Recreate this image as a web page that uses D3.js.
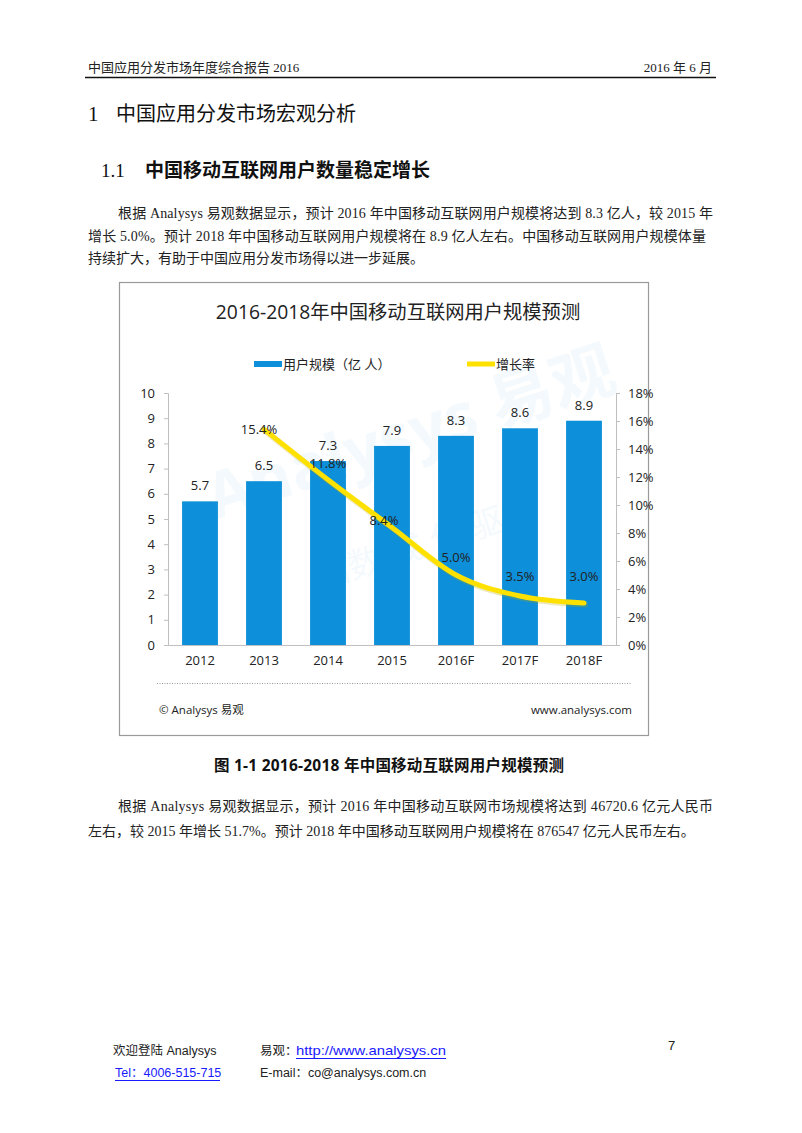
<!DOCTYPE html>
<html><head><meta charset="utf-8">
<script src="https://cdn.jsdelivr.net/npm/d3@7"></script>
<style>
html,body{margin:0;padding:0;background:#fff;}
svg{display:block;}
</style></head>
<body>
<svg id="page" width="802" height="1133"></svg>
<script>
// ---- data ----
const categories = ["2012","2013","2014","2015","2016F","2017F","2018F"];
const users = [5.7, 6.5, 7.3, 7.9, 8.3, 8.6, 8.9];            // 亿人
const growthCats = ["2013","2014","2015","2016F","2017F","2018F"];
const growth = [15.4, 11.8, 8.4, 5.0, 3.5, 3.0];              // %
const leftTicks = [0,1,2,3,4,5,6,7,8,9,10];
const rightTicks = [0,2,4,6,8,10,12,14,16,18];
// label offsets (style) for growth labels
const growthLabelDy = [5, -12, -2, -13, -15, -22];
const growthLabelDx = [-5, 0, -8, 0, 0, 0];

const svg = d3.select("#page");
const serif = "'Liberation Serif','Noto Sans CJK SC',serif";
const cjk = "'Noto Sans CJK SC',sans-serif";
const chartFont = "'Open Sans','Noto Sans CJK SC',sans-serif";
const sans = "'Liberation Sans','Noto Sans CJK SC',sans-serif";

// ---- header ----
svg.append("text").attr("x",88).attr("y",72).attr("font-family",serif).attr("font-size",13).attr("fill","#222")
  .text("中国应用分发市场年度综合报告 2016");
svg.append("text").attr("x",712).attr("y",72).attr("text-anchor","end").attr("font-family",serif).attr("font-size",13).attr("fill","#222")
  .text("2016 年 6 月");
svg.append("line").attr("x1",85).attr("x2",716).attr("y1",77.5).attr("y2",77.5).attr("stroke","#111").attr("stroke-width",1.5);

// ---- headings ----
svg.append("text").attr("x",88).attr("y",121).attr("font-family",serif).attr("font-size",21).attr("fill","#111").text("1");
svg.append("text").attr("x",116).attr("y",121).attr("font-family",cjk).attr("font-size",20).attr("fill","#111").text("中国应用分发市场宏观分析");
svg.append("text").attr("x",101).attr("y",177).attr("font-family",serif).attr("font-size",19).attr("fill","#111").text("1.1");
svg.append("text").attr("x",145).attr("y",177).attr("font-family",cjk).attr("font-size",19).attr("font-weight","bold").attr("fill","#111").text("中国移动互联网用户数量稳定增长");

// ---- paragraph 1 ----
const p1 = [
  {x:118, y:218, w:595, t:"根据 Analysys 易观数据显示，预计 2016 年中国移动互联网用户规模将达到 8.3 亿人，较 2015 年"},
  {x:88, y:241, w:618, t:"增长 5.0%。预计 2018 年中国移动互联网用户规模将在 8.9 亿人左右。中国移动互联网用户规模体量"},
  {x:88, y:263, w:0, t:"持续扩大，有助于中国应用分发市场得以进一步延展。"}
];
p1.forEach(l=>{
  const t = svg.append("text").attr("x",l.x).attr("y",l.y).attr("font-family",serif).attr("font-size",14).attr("fill","#222").text(l.t);
  if(l.w) t.attr("textLength",l.w).attr("lengthAdjust","spacing");
});

// ---- chart box ----
svg.append("rect").attr("x",119.5).attr("y",282.5).attr("width",529).attr("height",453)
  .attr("fill","#fff").attr("stroke","#9a9a9a").attr("stroke-width",1.2);

svg.append("text").attr("x",398).attr("y",319).attr("text-anchor","middle").attr("font-family",chartFont)
  .attr("font-size",19.3).attr("fill","#222").text("2016-2018年中国移动互联网用户规模预测");

// legend
svg.append("rect").attr("x",254).attr("y",361).attr("width",28).attr("height",6).attr("fill","#0d8fd9");
svg.append("text").attr("x",283).attr("y",369).attr("font-family",chartFont).attr("font-size",13).attr("fill","#222").text("用户规模（亿 人）");
svg.append("line").attr("x1",467).attr("x2",495).attr("y1",364).attr("y2",364).attr("stroke","#ffe100").attr("stroke-width",5);
svg.append("text").attr("x",496).attr("y",369).attr("font-family",chartFont).attr("font-size",13).attr("fill","#222").text("增长率");

// watermark
const wm = svg.append("g").attr("opacity",0.045).attr("fill","#0d8fd9").attr("font-family",chartFont);
wm.append("text").attr("transform","translate(215,520) rotate(-18)").attr("font-size",64).attr("font-weight","bold").text("Analysys 易观");
wm.append("text").attr("transform","translate(320,590) rotate(-18)").attr("font-size",34).text("指数 成 化 驱动");

// scales
const x = d3.scaleBand().domain(categories).range([168,616]).paddingInner(0.44).paddingOuter(0.22);
const yL = d3.scaleLinear().domain([0,10]).range([645,393]);
const yR = d3.scaleLinear().domain([0,18]).range([645,393]);

// axes
const axL = svg.append("g").attr("transform","translate(168,0)")
  .call(d3.axisLeft(yL).tickValues(leftTicks).tickSize(4).tickPadding(9).tickFormat(d3.format("d")));
const axR = svg.append("g").attr("transform","translate(616,0)")
  .call(d3.axisRight(yR).tickValues(rightTicks).tickSize(4).tickPadding(8).tickFormat(d=>d+"%"));
const axB = svg.append("g").attr("transform","translate(0,645)")
  .call(d3.axisBottom(x).tickSize(0).tickPadding(11));
[axL,axR,axB].forEach(a=>{
  a.selectAll("path,line").attr("stroke","#bfbfbf");
  a.selectAll("text").attr("font-family",chartFont).attr("font-size",13).attr("fill","#222");
});

// bars
svg.append("g").selectAll("rect").data(users).join("rect")
  .attr("x",(d,i)=>x(categories[i])).attr("width",x.bandwidth())
  .attr("y",d=>yL(d)).attr("height",d=>yL(0)-yL(d)).attr("fill","#0d8fd9");
svg.append("g").selectAll("text").data(users).join("text")
  .attr("x",(d,i)=>x(categories[i])+x.bandwidth()/2).attr("y",d=>yL(d)-11)
  .attr("text-anchor","middle").attr("font-family",chartFont).attr("font-size",13).attr("fill","#222")
  .text(d=>d.toFixed(1));

// growth line
const cx = c => x(c)+x.bandwidth()/2;
const line = d3.line().x((d,i)=>cx(growthCats[i])).y(d=>yR(d)).curve(d3.curveMonotoneX);
svg.append("path").datum(growth).attr("d",line).attr("fill","none").attr("stroke","#b8a900").attr("stroke-opacity",0.25)
  .attr("stroke-width",6).attr("stroke-linecap","round").attr("transform","translate(1,1.5)");
svg.append("path").datum(growth).attr("d",line).attr("fill","none").attr("stroke","#ffe100")
  .attr("stroke-width",5).attr("stroke-linecap","round").attr("stroke-linejoin","round");
svg.append("g").selectAll("text").data(growth).join("text")
  .attr("x",(d,i)=>cx(growthCats[i])+growthLabelDx[i]).attr("y",(d,i)=>yR(d)+growthLabelDy[i])
  .attr("text-anchor","middle").attr("font-family",chartFont).attr("font-size",13).attr("fill","#222")
  .text(d=>d.toFixed(1)+"%");

// dotted separator & source
svg.append("line").attr("x1",157).attr("x2",632).attr("y1",683.5).attr("y2",683.5)
  .attr("stroke","#999").attr("stroke-width",1).attr("stroke-dasharray","1,1.5");
svg.append("text").attr("x",159).attr("y",714).attr("font-family",chartFont).attr("font-size",11.5).attr("fill","#222").text("© Analysys 易观");
svg.append("text").attr("x",632).attr("y",714).attr("text-anchor","end").attr("font-family",chartFont).attr("font-size",11.5).attr("fill","#222").text("www.analysys.com");

// caption
svg.append("text").attr("x",389).attr("y",771).attr("text-anchor","middle").attr("font-family",chartFont)
  .attr("font-size",15.5).attr("font-weight","bold").attr("fill","#111").attr("textLength",350).attr("lengthAdjust","spacing")
  .text("图  1-1 2016-2018 年中国移动互联网用户规模预测");

// ---- paragraph 2 ----
const p2 = [
  {x:118, y:811, w:595, t:"根据 Analysys 易观数据显示，预计 2016 年中国移动互联网市场规模将达到 46720.6 亿元人民币"},
  {x:88, y:836, w:0, t:"左右，较 2015 年增长 51.7%。预计 2018 年中国移动互联网用户规模将在 876547 亿元人民币左右。"}
];
p2.forEach(l=>{
  const t = svg.append("text").attr("x",l.x).attr("y",l.y).attr("font-family",serif).attr("font-size",14).attr("fill","#222").text(l.t);
  if(l.w) t.attr("textLength",l.w).attr("lengthAdjust","spacing");
});

// ---- footer ----
svg.append("text").attr("x",113).attr("y",1055).attr("font-family",sans).attr("font-size",12.5).attr("fill","#222").text("欢迎登陆 Analysys");
svg.append("text").attr("x",260).attr("y",1055).attr("font-family",sans).attr("font-size",12.5).attr("fill","#222").text("易观：");
svg.append("text").attr("x",296).attr("y",1055).attr("font-family",sans).attr("font-size",13).attr("fill","#1a1aff")
  .attr("textLength",150).attr("lengthAdjust","spacingAndGlyphs").text("http://www.analysys.cn");
svg.append("line").attr("x1",296).attr("x2",446).attr("y1",1058.5).attr("y2",1058.5).attr("stroke","#1a1aff");
svg.append("text").attr("x",668).attr("y",1050).attr("font-family",sans).attr("font-size",13).attr("fill","#222").text("7");
svg.append("text").attr("x",115).attr("y",1077).attr("font-family",sans).attr("font-size",12.5).attr("fill","#1a1aff").text("Tel：4006-515-715");
svg.append("line").attr("x1",115).attr("x2",220).attr("y1",1080.5).attr("y2",1080.5).attr("stroke","#1a1aff");
svg.append("text").attr("x",260).attr("y",1077).attr("font-family",sans).attr("font-size",12.5).attr("fill","#222").text("E-mail：co@analysys.com.cn");
</script>
</body></html>
